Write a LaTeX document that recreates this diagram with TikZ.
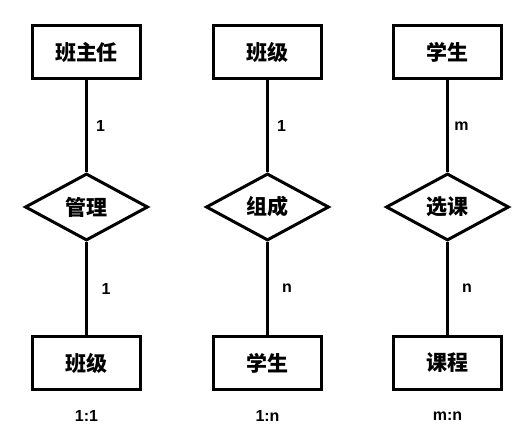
\documentclass[tikz,border=0pt]{standalone}
\usepackage{fontspec}
\setmainfont{Noto Sans CJK SC}
\newfontfamily\cardfont{Liberation Sans}
\usetikzlibrary{shapes.geometric}

\tikzset{
  entity/.style={draw,line width=3pt,minimum width=108pt,minimum height=53pt,
    font=\fontsize{21}{24}\selectfont\bfseries},
  relation/.style={draw,diamond,aspect=1.8,line width=3pt,inner sep=0pt,
    minimum width=123pt,minimum height=67pt,font=\fontsize{21}{24}\selectfont\bfseries},
  card/.style={font=\cardfont\bfseries\fontsize{16}{18}\selectfont},
  link/.style={line width=3pt},
}

\begin{document}
\begin{tikzpicture}[x=1pt,y=1pt]
\useasboundingbox (0,0) rectangle (528,445);

  \node[entity] (teacher) at (86.5,393) {班主任};
  \node[relation] (manage) at (86.5,238) {管理};
  \node[entity] (class1) at (86.5,82) {班级};
  \node[card] (ratio1) at (86.5,29) {1:1};

  \node[entity] (class2) at (267.5,393) {班级};
  \node[relation] (consist) at (267.5,238) {组成};
  \node[entity] (student1) at (267.5,82) {学生};
  \node[card] (ratio2) at (267.5,29) {1:n};

  \node[entity] (student2) at (447.5,393) {学生};
  \node[relation] (choose) at (447.5,238) {选课};
  \node[entity] (course) at (447.5,82) {课程};
  \node[card] (ratio3) at (447.5,29) {m:n};

 \draw[link] (teacher)--node[card,xshift=14pt]{1}(manage);
 \draw[link] (manage)--node[card,xshift=19.5pt]{1}(class1);
 \draw[link] (class2)--node[card,xshift=14pt]{1}(consist);
 \draw[link] (consist)--node[card,xshift=19.5pt]{n}(student1);
 \draw[link] (student2)--node[card,xshift=14pt]{m}(choose);
 \draw[link] (choose)--node[card,xshift=19.5pt]{n}(course);
\end{tikzpicture}
\end{document}
